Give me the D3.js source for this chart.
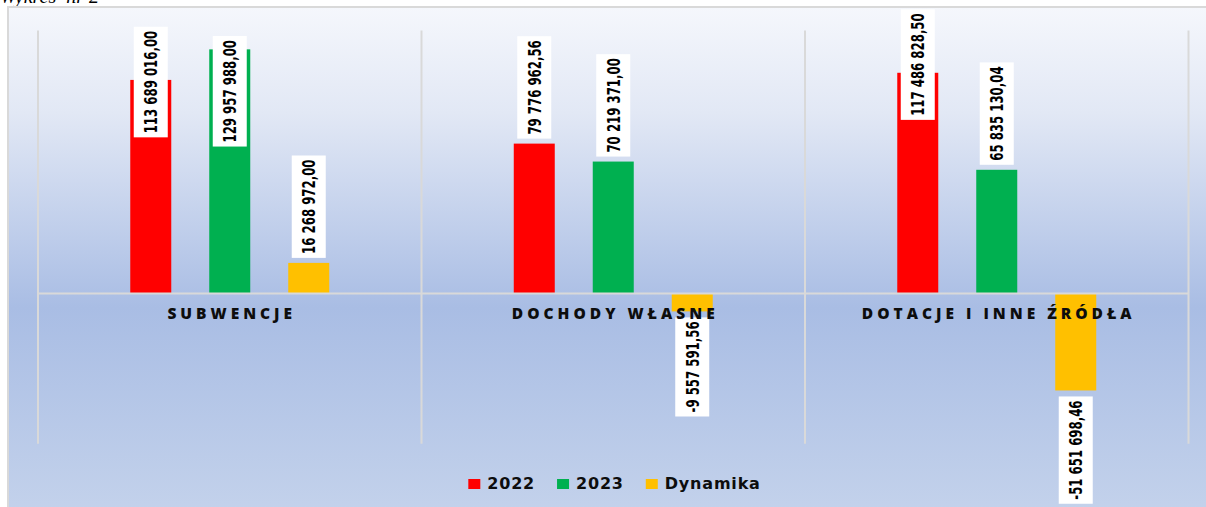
<!DOCTYPE html>
<html>
<head>
<meta charset="utf-8">
<script src="https://cdn.jsdelivr.net/npm/d3@7/dist/d3.min.js"></script>
<style>
  html, body { margin: 0; padding: 0; background: #ffffff; overflow: hidden; }
  svg { display: block; }
</style>
</head>
<body>
<svg id="chart" width="1206" height="507"></svg>
<script>
// ---- data ----
const categories = ["SUBWENCJE", "DOCHODY WŁASNE", "DOTACJE I INNE ŹRÓDŁA"];
const seriesNames = ["2022", "2023", "Dynamika"];
const values2022 = [113689016.00, 79776962.56, 117486828.50];
const values2023 = [129957988.00, 70219371.00, 65835130.04];
const valuesDynamika = [16268972.00, -9557591.56, -51651698.46];
const seriesColors = ["#ff0000", "#00b050", "#ffc000"];
// label boxes that Excel pushed down onto the bar (top of box, in value units)
const labelTopOverride = {
  "0-0": 142.0e6,
  "0-1": 137.1e6,
  "2-0": 151.3e6
};

const seriesValues = [values2022, values2023, valuesDynamika];

const svg = d3.select("#chart");
const W = 1206, H = 507;

// ---- background ----
const defs = svg.append("defs");
const grad = defs.append("linearGradient")
  .attr("id", "bg").attr("x1", 0).attr("y1", 0).attr("x2", 0).attr("y2", 1);
grad.append("stop").attr("offset", "0%").attr("stop-color", "#f5f7fc");
grad.append("stop").attr("offset", "20%").attr("stop-color", "#e2e8f5");
grad.append("stop").attr("offset", "57%").attr("stop-color", "#a9bde4");
grad.append("stop").attr("offset", "100%").attr("stop-color", "#c6d4ec");

svg.append("text")
  .attr("x", 0).attr("y", 3)
  .attr("font-family", "'Liberation Serif', 'Times New Roman', serif")
  .attr("font-style", "italic")
  .attr("font-size", 20)
  .style("white-space", "pre")
  .text("Wykres  nr 2");

svg.append("rect")
  .attr("x", 8).attr("y", 7)
  .attr("width", W + 20).attr("height", H + 20)
  .attr("fill", "url(#bg)")
  .attr("stroke", "#d9d9d9").attr("stroke-width", 2);

// ---- scales ----
const x0 = d3.scaleBand().domain(categories).range([38, 1188.5]).padding(0);
const x1 = d3.scaleBand().domain(seriesNames).range([0, x0.bandwidth()])
  .paddingInner(0.481).paddingOuter(1.168);
const y = d3.scaleLinear().domain([-80e6, 140e6]).range([443.7, 30.5]);

const fmtRaw = d3.formatLocale({ decimal: ",", thousands: "\u00a0", grouping: [3], currency: ["", ""], minus: "-" }).format(",.2f");
const fmt = v => fmtRaw(v);

// narrow-font advance widths (em) used to size the condensed labels
function narrowWidth(s, size) {
  let w = 0;
  for (const ch of s) {
    if (/[0-9]/.test(ch)) w += 0.456;
    else if (ch === "-") w += 0.273;
    else w += 0.228;
  }
  return w * size;
}

// ---- gridlines (category separators) ----
const sepX = categories.map(c => x0(c)).concat([x0(categories[categories.length - 1]) + x0.bandwidth()]);
svg.append("g").selectAll("line").data(sepX).join("line")
  .attr("x1", d => d).attr("x2", d => d)
  .attr("y1", y(140e6)).attr("y2", y(-80e6))
  .attr("stroke", "#d9d9d9").attr("stroke-width", 2);

// ---- bars ----
const barData = [];
categories.forEach((c, ci) => {
  seriesNames.forEach((s, si) => {
    barData.push({ c, ci, s, si, v: seriesValues[si][ci] });
  });
});

svg.append("g").selectAll("rect").data(barData).join("rect")
  .attr("x", d => x0(d.c) + x1(d.s))
  .attr("width", x1.bandwidth())
  .attr("y", d => y(Math.max(0, d.v)))
  .attr("height", d => Math.abs(y(d.v) - y(0)))
  .attr("fill", d => seriesColors[d.si]);

// ---- zero line ----
svg.append("line")
  .attr("x1", sepX[0]).attr("x2", sepX[sepX.length - 1])
  .attr("y1", y(0)).attr("y2", y(0))
  .attr("stroke", "#d9d9d9").attr("stroke-width", 2);

// ---- data labels ----
const lblG = svg.append("g");
barData.forEach(d => {
  const cx = x0(d.c) + x1(d.s) + x1.bandwidth() / 2;
  const g = lblG.append("g");
  const rect = g.append("rect").attr("fill", "#ffffff");
  const label = fmt(d.v);
  const len = narrowWidth(label, 18);
  const t = g.append("text")
    .attr("font-family", "'Liberation Sans Narrow', 'Arial Narrow', 'DejaVu Sans Condensed', sans-serif")
    .attr("font-weight", "bold")
    .attr("font-size", 18.5)
    .attr("fill", "#000")
    .attr("text-anchor", "middle")
    .attr("textLength", len)
    .attr("lengthAdjust", "spacingAndGlyphs")
    .text(label);
  const boxH = len + 8, boxW = 34;
  let top;
  const key = d.ci + "-" + d.si;
  if (labelTopOverride[key] !== undefined) {
    top = y(labelTopOverride[key]);
  } else if (d.v >= 0) {
    top = y(d.v) - 5 - boxH;
  } else {
    top = y(d.v) + 6;
  }
  rect.attr("x", cx - boxW / 2).attr("y", top).attr("width", boxW).attr("height", boxH);
  const cy = top + boxH / 2;
  t.attr("transform", `translate(${cx + 6.5},${cy}) rotate(-90)`);
});

// ---- category labels ----
svg.append("g").selectAll("text").data(categories).join("text")
  .attr("x", d => x0(d) + x0.bandwidth() / 2 + 2)
  .attr("y", 319)
  .attr("text-anchor", "middle")
  .attr("font-family", "'Open Sans', 'DejaVu Sans', sans-serif")
  .attr("font-weight", 800)
  .attr("font-size", 15.5)
  .attr("letter-spacing", "4px")
  .attr("fill", "#0d0d0d")
  .text(d => d);

// ---- legend ----
const leg = svg.append("g");
let lx = 0;
seriesNames.forEach((s, i) => {
  const it = leg.append("g");
  it.append("rect").attr("x", 0).attr("y", -10).attr("width", 12).attr("height", 10)
    .attr("fill", seriesColors[i]);
  const tt = it.append("text").attr("x", 19).attr("y", 0)
    .attr("font-family", "'DejaVu Sans', sans-serif")
    .attr("font-weight", "bold")
    .attr("font-size", 16)
    .attr("letter-spacing", "0.8px")
    .attr("fill", "#0d0d0d")
    .text(s);
  const w = 19 + tt.node().getComputedTextLength();
  it.attr("transform", `translate(${lx},0)`);
  lx += w + 22;
});
const legW = lx - 22;
leg.attr("transform", `translate(${614.5 - legW / 2},489)`);
</script>
</body>
</html>
